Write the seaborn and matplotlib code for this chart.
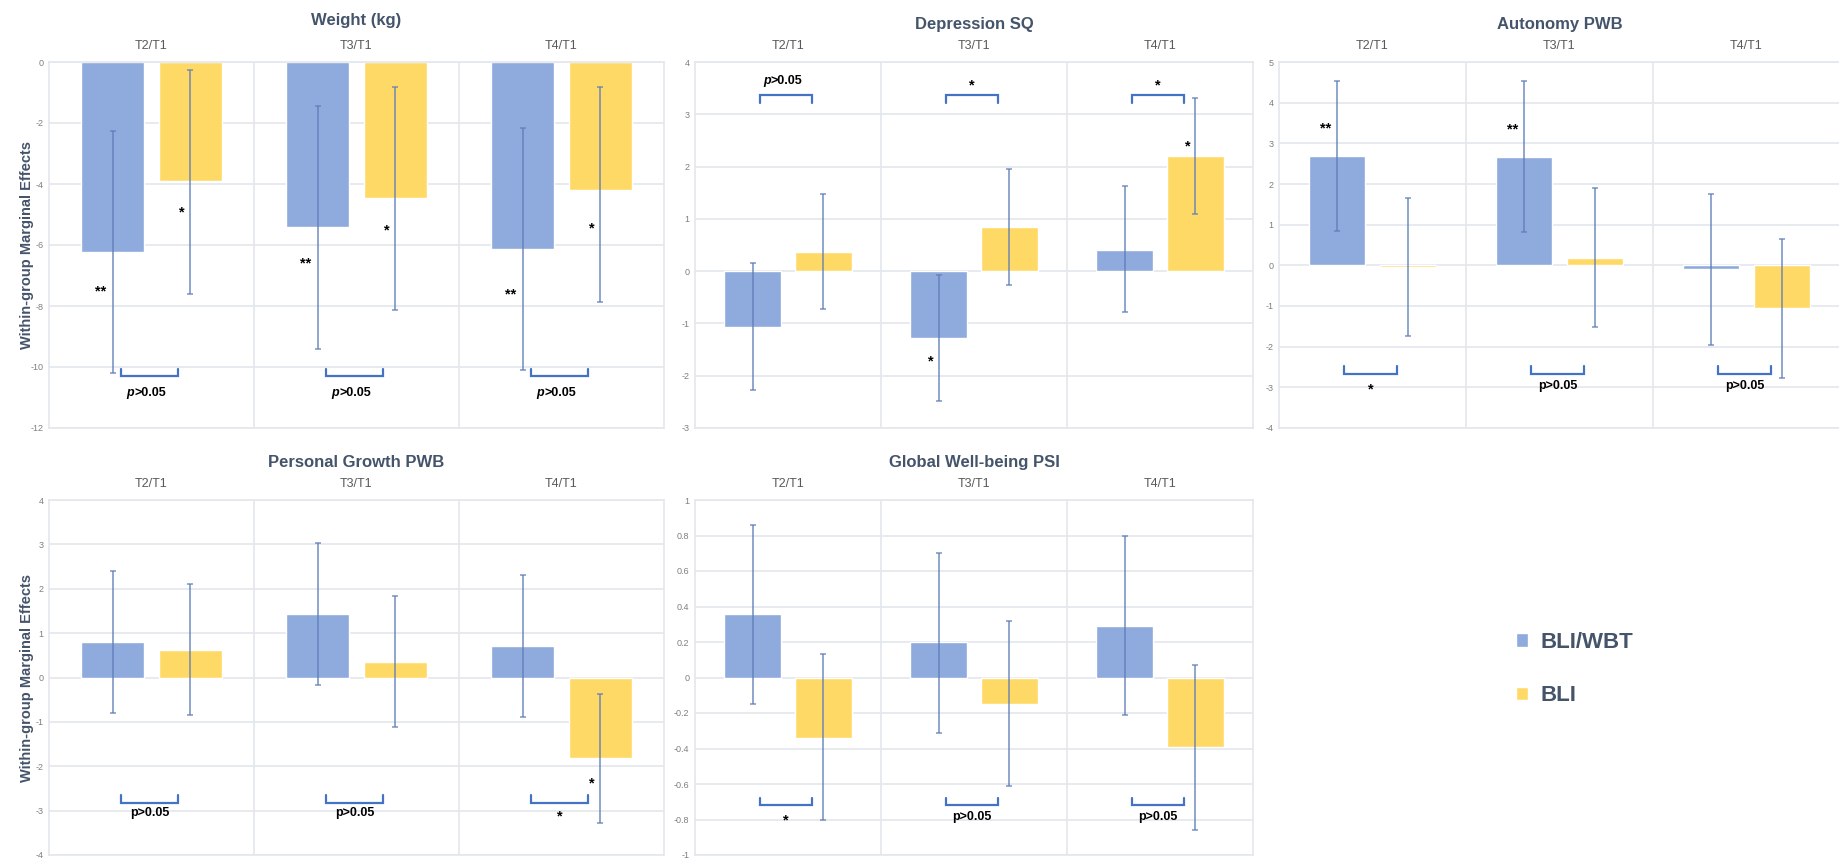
import matplotlib
matplotlib.use("Agg")
import matplotlib.pyplot as plt
import seaborn as sns
import pandas as pd
import numpy as np

# ---- data ----
times = ['T2/T1', 'T3/T1', 'T4/T1']
groups = ['BLI/WBT', 'BLI']

weight_wbt = [-6.22, -5.42, -6.13]
weight_wbt_lo = [-10.2, -9.42, -10.1]
weight_wbt_hi = [-2.25, -1.45, -2.16]
weight_bli = [-3.91, -4.47, -4.19]
weight_bli_lo = [-7.6, -8.14, -7.86]
weight_bli_hi = [-0.27, -0.82, -0.81]

dep_wbt = [-1.07, -1.28, 0.41]
dep_wbt_lo = [-2.28, -2.49, -0.78]
dep_wbt_hi = [0.15, -0.08, 1.63]
dep_bli = [0.37, 0.84, 2.2]
dep_bli_lo = [-0.73, -0.26, 1.1]
dep_bli_hi = [1.47, 1.96, 3.31]

aut_wbt = [2.69, 2.67, -0.08]
aut_wbt_lo = [0.84, 0.82, -1.95]
aut_wbt_hi = [4.54, 4.54, 1.76]
aut_bli = [-0.05, 0.18, -1.05]
aut_bli_lo = [-1.75, -1.52, -2.77]
aut_bli_hi = [1.66, 1.9, 0.65]

pg_wbt = [0.8, 1.43, 0.71]
pg_wbt_lo = [-0.8, -0.17, -0.9]
pg_wbt_hi = [2.4, 3.03, 2.31]
pg_bli = [0.62, 0.36, -1.81]
pg_bli_lo = [-0.84, -1.12, -3.29]
pg_bli_hi = [2.11, 1.84, -0.38]

gwb_wbt = [0.36, 0.2, 0.29]
gwb_wbt_lo = [-0.15, -0.31, -0.21]
gwb_wbt_hi = [0.86, 0.70, 0.80]
gwb_bli = [-0.34, -0.15, -0.39]
gwb_bli_lo = [-0.80, -0.61, -0.86]
gwb_bli_hi = [0.13, 0.32, 0.07]

# significance marks: (time index, group index, text, y)
weight_marks = [(0, 0, '**', -7.4), (0, 1, '*', -4.8), (1, 0, '**', -6.5),
                (1, 1, '*', -5.4), (2, 0, '**', -7.5), (2, 1, '*', -5.35)]
dep_marks = [(1, 0, '*', -1.65), (2, 1, '*', 2.45)]
aut_marks = [(0, 0, '**', 3.46), (1, 0, '**', 3.43)]
pg_marks = [(2, 1, '*', -2.3)]
gwb_marks = []

# between-group comparison labels
weight_cmp = ['p>0.05', 'p>0.05', 'p>0.05']
dep_cmp = ['p>0.05', '*', '*']
aut_cmp = ['*', 'p>0.05', 'p>0.05']
pg_cmp = ['p>0.05', 'p>0.05', '*']
gwb_cmp = ['*', 'p>0.05', 'p>0.05']

# ---- style ----
BLUE = '#8FAADC'
YELLOW = '#FFD966'
GRID = '#E3E7EE'
DARK = '#44546A'
ERR = '#5F7FB8'
BRACKET = '#4472C4'

sns.set_style('white')
plt.rcParams['font.family'] = ['Liberation Sans', 'DejaVu Sans']
plt.rcParams['axes.unicode_minus'] = False

fig = plt.figure(figsize=(18.4, 8.6), dpi=100)


def star(ax, x, y, s):
    ax.annotate(s, (x, y), xytext=(0, -5.5), textcoords='offset points',
                ha='center', va='baseline', fontsize=10.5, fontweight='bold',
                color='black')


def ptext(ax, x, y, s, italic):
    if s == '*':
        star(ax, x, y, s)
    elif italic:
        ax.annotate('p', (x, y), xytext=(-11, 0), textcoords='offset points',
                    ha='right', va='center', fontsize=9, fontweight='bold',
                    style='italic', color='black')
        ax.annotate('>0.05', (x, y), xytext=(-11, 0), textcoords='offset points',
                    ha='left', va='center', fontsize=9, fontweight='bold',
                    color='black')
    else:
        ax.text(x, y, s, ha='center', va='center', fontsize=9,
                fontweight='bold', color='black')


def draw_panel(rect, title, wbt, wbt_lo, wbt_hi, bli, bli_lo, bli_hi,
               ylim, step, marks, cmp, br_y, br_h, txt_y, italic,
               title_pad, fmt='{:g}', legend=False):
    ax = fig.add_axes(rect)
    df = pd.DataFrame({'time': times * 2,
                       'group': [groups[0]] * 3 + [groups[1]] * 3,
                       'value': wbt + bli})
    sns.barplot(data=df, x='time', y='value', hue='group', order=times,
                hue_order=groups, palette=[BLUE, YELLOW], saturation=1,
                width=0.76, gap=0.2, errorbar=None, ax=ax, legend=legend,
                zorder=2)
    centers = []
    for cont, vals, lo, hi in zip(ax.containers, [wbt, bli],
                                  [wbt_lo, bli_lo], [wbt_hi, bli_hi]):
        xs = [b.get_x() + b.get_width() / 2 for b in cont]
        centers.append(xs)
        yerr = [np.array(vals) - np.array(lo), np.array(hi) - np.array(vals)]
        ax.errorbar(xs, vals, yerr=yerr, fmt='none', ecolor=ERR, alpha=0.7,
                    elinewidth=1.4, capsize=2.5, capthick=1.3, zorder=3)

    ax.set_xlim(-0.5, 2.5)
    ax.set_ylim(*ylim)
    ticks = np.arange(ylim[0], ylim[1] + step / 2, step)
    ax.set_yticks(ticks)
    ax.set_yticklabels([fmt.format(round(t, 2) + 0.0) for t in ticks])
    ax.set_axisbelow(True)
    ax.yaxis.grid(True, color=GRID, lw=1.2)
    for xv in (0.5, 1.5):
        ax.axvline(xv, color=GRID, lw=1.2, zorder=0)
    for sp in ax.spines.values():
        sp.set_color(GRID)
        sp.set_linewidth(1.2)
    ax.xaxis.set_ticks_position('top')
    ax.xaxis.set_label_position('top')
    ax.tick_params(axis='x', length=0, pad=7, labelsize=9, labelcolor='#595959')
    ax.tick_params(axis='y', length=0, pad=4, labelsize=6.5, labelcolor='#7F7F7F')
    ax.set_xlabel('')
    ax.set_ylabel('')
    ax.set_title(title, fontsize=12, fontweight='bold', color=DARK, pad=title_pad)

    for ti, gi, s, y in marks:
        dx = -0.06 if s == '**' else -0.04
        star(ax, centers[gi][ti] + dx, y, s)

    for i, s in enumerate(cmp):
        x0, x1 = i - 0.15, i + 0.13
        ax.plot([x0, x0, x1, x1], [br_y + br_h, br_y, br_y, br_y + br_h],
                color=BRACKET, lw=1.6, solid_joinstyle='miter', zorder=4)
        ptext(ax, i - 0.01, txt_y, s, italic)
    return ax


W = 1840.0
H = 860.0
# (bottom, height) in figure fractions, from pixel rows measured from the top
row1 = (1 - 428 / H, (428 - 62) / H)
row2 = (1 - 855 / H, (855 - 500) / H)
col1 = (49 / W, (664 - 49) / W)
col2 = (695 / W, (1253 - 695) / W)
col3 = (1279 / W, (1840 - 1279) / W)

ax_w = draw_panel([col1[0], row1[0], col1[1], row1[1]], 'Weight (kg)',
                  weight_wbt, weight_wbt_lo, weight_wbt_hi,
                  weight_bli, weight_bli_lo, weight_bli_hi,
                  (-12, 0), 2, weight_marks, weight_cmp,
                  -10.3, 0.25, -10.85, True, 27, legend=True)
handles, labels = ax_w.get_legend_handles_labels()
ax_w.get_legend().remove()

draw_panel([col2[0], row1[0], col2[1], row1[1]], 'Depression SQ',
           dep_wbt, dep_wbt_lo, dep_wbt_hi, dep_bli, dep_bli_lo, dep_bli_hi,
           (-3, 4), 1, dep_marks, dep_cmp, 3.36, -0.15, 3.63, True, 24)

draw_panel([col3[0], row1[0], col3[1], row1[1]], 'Autonomy PWB',
           aut_wbt, aut_wbt_lo, aut_wbt_hi, aut_bli, aut_bli_lo, aut_bli_hi,
           (-4, 5), 1, aut_marks, aut_cmp, -2.66, 0.18, -2.96, False, 24)

draw_panel([col1[0], row2[0], col1[1], row2[1]], 'Personal Growth PWB',
           pg_wbt, pg_wbt_lo, pg_wbt_hi, pg_bli, pg_bli_lo, pg_bli_hi,
           (-4, 4), 1, pg_marks, pg_cmp, -2.82, 0.18, -3.06, False, 24)

draw_panel([col2[0], row2[0], col2[1], row2[1]], 'Global Well-being PSI',
           gwb_wbt, gwb_wbt_lo, gwb_wbt_hi, gwb_bli, gwb_bli_lo, gwb_bli_hi,
           (-1, 1), 0.2, gwb_marks, gwb_cmp, -0.72, 0.04, -0.785, False, 24)

# shared y labels
for yc in (1 - (62 + 428) / 2 / H, 1 - (500 + 855) / 2 / H):
    fig.text(27 / W, yc, 'Within-group Marginal Effects', rotation=90,
             ha='center', va='center', fontsize=10.5, fontweight='bold',
             color=DARK)

fig.legend(handles, labels, loc='center left',
           bbox_to_anchor=(1516 / W, 1 - 669 / H), frameon=False,
           borderpad=0, borderaxespad=0, handlelength=0.55, handleheight=0.55,
           handletextpad=0.55, labelspacing=1.45,
           prop={'size': 16, 'weight': 'bold'}, labelcolor=DARK)

fig.savefig('out.png', dpi=100)
